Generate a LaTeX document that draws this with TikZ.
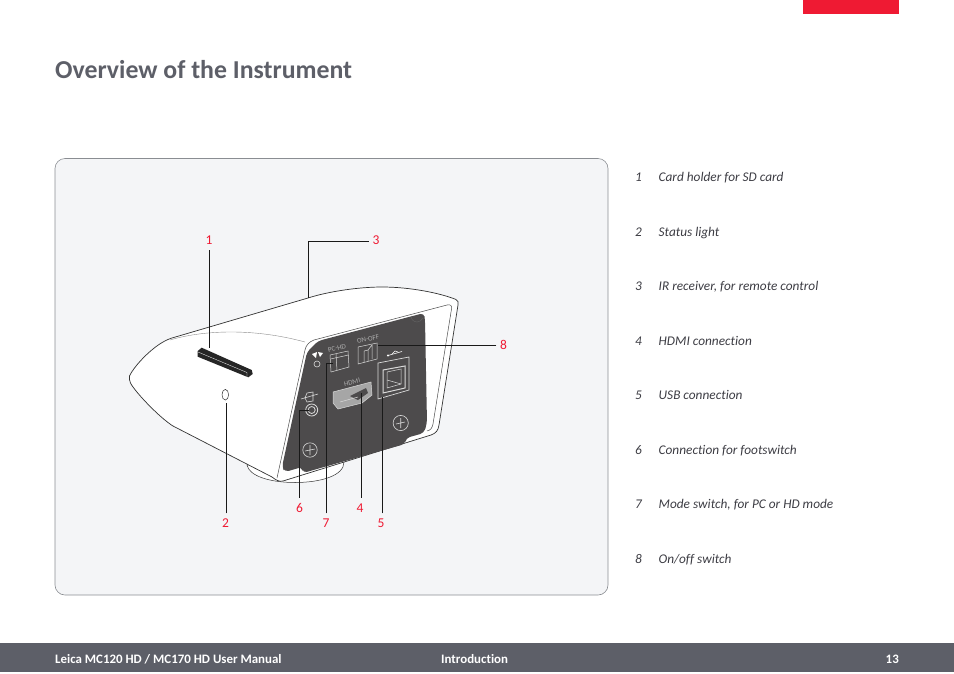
\documentclass[tikz,border=0pt]{standalone}
\usepackage{fontspec}
\setmainfont[Ligatures=NoCommon]{Carlito}
\usetikzlibrary{positioning}
\definecolor{leicared}{HTML}{EF1A33}
\definecolor{footgray}{HTML}{5D5F68}
\definecolor{cardfill}{HTML}{F4F5F7}
\definecolor{cardline}{HTML}{8A8D92}
\definecolor{paneldark}{HTML}{4D4B4C}
\definecolor{listtext}{HTML}{3C3C43}
\tikzset{
  callnum/.style={text=leicared, font=\fontsize{13.5}{14}\selectfont, inner xsep=3.5pt, inner ysep=5.5pt},
  callline/.style={draw=black!90, line width=0.8pt},
  listitem/.style={text=listtext, anchor=base west, inner sep=0pt, font=\fontsize{13.3}{14}\selectfont\itshape},
  footitem/.style={text=white, inner sep=0pt, font=\fontsize{12.9}{13}\selectfont\bfseries},
  hull/.style={draw=black!80, line width=0.7pt, fill=white},
  panelmark/.style={draw=black!15, line width=0.5pt},
  paneltext/.style={text=black!32, inner sep=0pt, rotate=13, font=\fontsize{7}{7}\selectfont},
}
\begin{document}
\begin{tikzpicture}[x=1pt, y=-1pt]
  \useasboundingbox (0,0) rectangle (954,673);
  % page furniture
  \fill[leicared] (803,0) rectangle (899,14);
  \node[text=footgray, anchor=west, inner sep=0pt, font=\fontsize{25.8}{26}\selectfont\bfseries] (title) at (55,69.5) {Overview of the Instrument};
  \fill[footgray] (0,643) rectangle (954,672);
  \node[footitem, anchor=west] (footleft) at (55,659) {Leica MC120 HD / MC170 HD User Manual};
  \node[footitem, anchor=west] (footmid) at (441,659) {Introduction};
  \node[footitem, anchor=east] (footpage) at (899,659) {13};
  % card behind the camera
  \draw[cardline, fill=cardfill, line width=0.6pt, rounded corners=10pt] (55,158.5) rectangle (608,595);
  % foot of the camera
  \draw[hull, line width=0.5pt] (247,465) .. controls (249,476) and (270,482.5) .. (295,482.5) .. controls (320,482.5) and (344,476) .. (344,462) -- cycle;
  % housing
  \draw[hull] (129.5,376) .. controls (134,366) and (155,343) .. (172,338) -- (308,298)
    .. controls (330,291) and (360,287) .. (382,287) .. controls (410,287) and (440,293) .. (456,299.5)
    .. controls (458,300.5) and (458.5,302) .. (458,305) -- (439,425)
    .. controls (438,431) and (436,433) .. (431,435) -- (283,481)
    .. controls (279,482) and (276,480) .. (272,477) -- (173,426)
    .. controls (160,418) and (135,392) .. (130.5,383) .. controls (129.5,381) and (129,378) .. (129.5,376) -- cycle;
  % crease on top of the housing
  \draw[black!45, line width=0.4pt] (170,340) .. controls (200,331) and (250,327) .. (305,342);
  % rim around the rear panel
  \draw[black!70, line width=0.5pt] (277,478) -- (305,350) .. controls (306,345) and (309,342) .. (314,340) -- (447,305);
  \draw[black!70, line width=0.5pt] (447,305) .. controls (451,304) and (452,306) .. (451.5,309) -- (433,424) .. controls (432,428) and (431,430) .. (427,431);
  % rear panel
  \fill[paneldark, rounded corners=4pt] (318,341) -- (424,313) -- (425,320) -- (427,423) -- (424,433) -- (406,438) -- (405,444) -- (303,473) -- (302,467) -- (285,472) -- (282,467) -- (307,352) -- cycle;
  \draw[black!62, line width=0.5pt] (411,316) arc[start angle=180, end angle=20, radius=6] ;
  % slot, status light
  \fill[black!85] (197.7,351) -- (201.7,347.7) -- (251.7,370) -- (252.7,374) -- (248.3,377.3) -- (197.7,356.7) -- cycle;
  \draw[white, line width=0.3pt] (198,352) -- (247,372.5) -- (247,377);
  \draw[black!80, line width=0.5pt, fill=white] (225.3,394.7) ellipse (3.3 and 5.3);
  % sockets and switches
  \node[paneltext] (pchd) at (337,348) {PC-HD};
  \node[paneltext] (onoff) at (368,339) {ON-OFF};
  \node[paneltext] (hdmi) at (352,382) {HDMI};
  \draw[panelmark] (330,355) -- (348,351) -- (349,367) -- (331,372) -- cycle;
  \draw[panelmark] (336,354) -- (337,370.5) (330.5,359) -- (348.5,355);
  \draw[panelmark] (358,347) -- (377,343) -- (377,359) -- (358,364) -- cycle;
  \draw[panelmark] (364,351) -- (368,350) -- (372,345) -- (372,359) (364,351) -- (364,362.5) (368,350) -- (368,361);
  \draw[panelmark, line width=0.7pt] (378,363) -- (409,357) -- (409,390) -- (378,399) -- cycle;
  \draw[panelmark, line width=1pt] (383,370) -- (405,366) -- (405,388) -- (383,393) -- cycle;
  \draw[panelmark] (387,372) -- (401,369) -- (401,384) -- (387,388) -- cycle;
  \draw[panelmark] (387,380) -- (401,384);
  \draw[panelmark, fill=black!35] (333,392) -- (371,382) -- (372,395) -- (362,403) -- (338,409) -- (333,403) -- cycle;
  \fill[paneldark] (350,396) -- (366,388) -- (368,393) -- (358,400) -- cycle;
  \draw[panelmark] (340,402) -- (358,397);
  % symbols on the panel
  \draw[white, line width=0.6pt] (388,355.5) -- (402,351.5);
  \fill[white] (388,355.5) circle (1.2);
  \draw[white, line width=0.5pt] (392,354) -- (395,351) -- (398,352);
  \fill[white] (312,354) -- (317,352) -- (316,358) -- cycle (318,352) -- (323,353) -- (320,357) -- cycle;
  \draw[panelmark, line width=0.6pt] (317,364) circle (3);
  \draw[panelmark, line width=0.6pt] (301,399) -- (318,394) (305,398) -- (307,393) -- (313,392) -- (313,401) -- (307,402) -- cycle;
  \draw[panelmark, line width=0.8pt] (311.7,410) circle (6) (311.7,410) circle (3.5);
  \draw[panelmark, line width=0.6pt] (310,450) circle (7.2) (310,445) -- (310,455) (305,451) -- (315,449);
  \draw[panelmark, line width=0.6pt] (400.7,423) circle (7.6) (400.7,418) -- (400.7,428) (396,424) -- (405,422);
  % callout ends
  \coordinate (tipone) at (209.3,348);
  \coordinate (tiptwo) at (226.3,402.7);
  \coordinate (tipthree) at (308.3,298);
  \coordinate (elbowthree) at (308.3,241.7);
  \coordinate (tipfour) at (361,393);
  \coordinate (tipfive) at (382.7,397);
  \coordinate (tipsix) at (309,410);
  \coordinate (tipseven) at (333,363);
  \coordinate (tipeight) at (378.3,345.5);
  % callout numbers
  \node[callnum] (numone) at (209,240) {1};
  \node[callnum] (numtwo) at (225.5,523.5) {2};
  \node[callnum] (numthree) at (376,240) {3};
  \node[callnum] (numfour) at (360,508) {4};
  \node[callnum] (numfive) at (381,523.5) {5};
  \node[callnum] (numsix) at (299.5,508) {6};
  \node[callnum] (numseven) at (326,523.5) {7};
  \node[callnum] (numeight) at (503.5,345) {8};
  % callout lines
  \draw[callline] (numone.south -| tipone) -- (tipone);
  \draw[callline] (numtwo.north -| tiptwo) -- (tiptwo);
  \draw[callline] (numthree.west |- elbowthree) -- (elbowthree) -- (tipthree);
  \draw[callline] (numfour.north -| tipfour) -- (tipfour);
  \draw[callline] (numfive.north -| tipfive) -- (tipfive);
  \draw[callline] (numsix.north) |- (tipsix);
  \draw[callline] (numseven.north) |- (tipseven);
  \draw[callline] (numeight.west |- tipeight) -- (tipeight);
  % list of parts
  \foreach \n/\yy/\txt in {1/176/Card holder for SD card, 2/231/Status light, 3/285/{IR receiver, for remote control}, 4/340/HDMI connection, 5/394/USB connection, 6/449/Connection for footswitch, 7/503/{Mode switch, for PC or HD mode}, 8/558/{On/off switch}} {
    \node[listitem] (listnum\n) at (635,\yy+5) {\n};
    \node[listitem] (listtxt\n) at (658.5,\yy+5) {\txt};
  }
\end{tikzpicture}
\end{document}
